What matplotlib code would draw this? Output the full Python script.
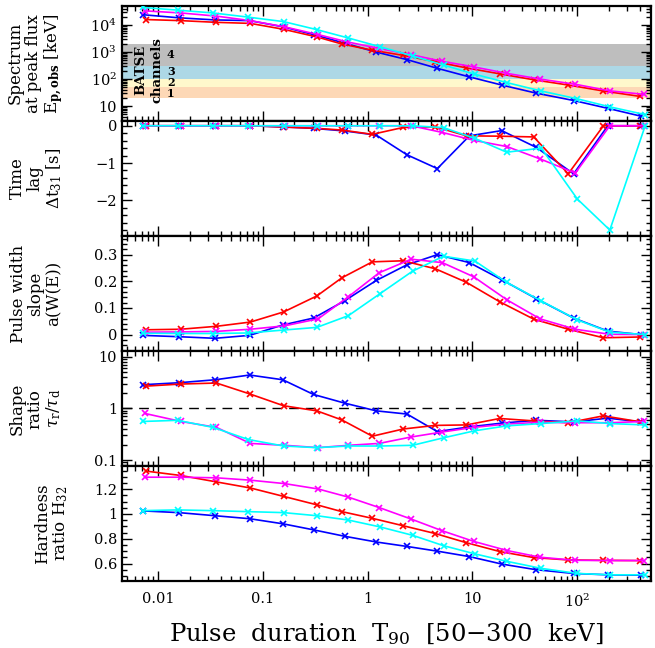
"""
Pulse properties vs. pulse duration T90 -- five stacked panels sharing a log x-axis.
"""

import matplotlib
matplotlib.use("Agg")
import matplotlib.pyplot as plt
from matplotlib.ticker import MultipleLocator, LogLocator, NullFormatter

plt.rcParams["font.family"] = ["DejaVu Serif"]
plt.rcParams["mathtext.fontset"] = "dejavuserif"

# ── Data: T90 bin positions (each series slightly offset) ─────────────────────
t90_red = [0.0077, 0.0164, 0.036, 0.076, 0.158, 0.328, 0.568, 1.11, 2.19, 4.44,
           8.8, 18.3, 38.6, 82.5, 179, 404]
t90_magenta = [0.0075, 0.0165, 0.036, 0.076, 0.162, 0.337, 0.656, 1.29, 2.61, 5.18,
               10.3, 21.5, 44.4, 96.4, 206, 439]
t90_cyan = [0.0071, 0.0154, 0.0334, 0.0726, 0.158, 0.328, 0.656, 1.31, 2.69, 5.32,
            10.6, 21.3, 45.6, 101, 206, 448]
t90_blue = [0.0071, 0.0158, 0.035, 0.0747, 0.155, 0.305, 0.605, 1.21, 2.38, 4.64,
            9.4, 19.1, 40.8, 92.9, 197, 408]

# panel 1: E_p,obs at peak flux [keV]
ep_red = [16100, 14700, 12700, 11600, 7000, 3650, 2000, 1175, 755, 442,
          259, 156, 94, 60, 36, 22.6]
ep_magenta = [33800, 28300, 21600, 14700, 8600, 4460, 2340, 1365, 800, 455,
              283, 162, 100, 64, 36.5, 27]
ep_cyan = [45500, 35900, 28300, 19800, 13500, 6800, 3330, 1585, 720, 330,
           150, 74, 36, 18.4, 9.3, 4.8]
ep_blue = [24400, 18700, 15600, 14700, 8700, 4460, 2140, 1000, 526, 250,
           120, 60, 30, 16, 8.2, 4.2]

# panel 2: time lag dt31 [s]
lag_red = [0, 0, 0, 0, -0.035, -0.07, -0.115, -0.23, -0.045, -0.03,
           -0.27, -0.28, -0.30, -1.29, 0, 0]
lag_magenta = [0, 0, 0, 0, 0, 0, 0, 0, 0, -0.18,
               -0.39, -0.56, -0.89, -1.27, 0, 0]
lag_cyan = [0, 0, 0, 0, 0, 0, 0, 0, 0, -0.05,
            -0.34, -0.71, -0.60, -1.97, -2.80, 0]
lag_blue = [0, 0, 0, 0, -0.03, -0.07, -0.14, -0.25, -0.78, -1.15,
            -0.27, -0.13, -0.58, -1.29, 0, 0]

# panel 3: pulse width slope a(W(E))
slope_red = [0.018, 0.020, 0.031, 0.047, 0.085, 0.145, 0.213, 0.273, 0.277, 0.247,
             0.196, 0.123, 0.058, 0.020, -0.012, -0.009]
slope_magenta = [0.009, 0.010, 0.012, 0.020, 0.033, 0.059, 0.142, 0.232, 0.283, 0.270,
                 0.217, 0.130, 0.059, 0.020, 0.001, 0.0]
slope_cyan = [0.005, 0.004, 0.004, 0.006, 0.017, 0.027, 0.071, 0.153, 0.238, 0.294,
              0.276, 0.196, 0.126, 0.055, 0.009, 0.0]
slope_blue = [-0.003, -0.008, -0.014, -0.003, 0.036, 0.062, 0.127, 0.203, 0.262, 0.300,
              0.270, 0.206, 0.135, 0.062, 0.013, 0.0]

# panel 4: shape ratio tau_r / tau_d
shape_red = [2.72, 2.98, 3.12, 1.90, 1.13, 0.90, 0.60, 0.29, 0.40, 0.47,
             0.48, 0.64, 0.575, 0.53, 0.72, 0.55]
shape_magenta = [0.80, 0.56, 0.43, 0.21, 0.193, 0.174, 0.193, 0.21, 0.28, 0.35,
                 0.43, 0.50, 0.54, 0.53, 0.53, 0.56]
shape_cyan = [0.56, 0.59, 0.43, 0.25, 0.187, 0.174, 0.187, 0.187, 0.193, 0.27,
              0.37, 0.46, 0.51, 0.575, 0.51, 0.48]
shape_blue = [2.89, 3.16, 3.61, 4.46, 3.61, 1.87, 1.27, 0.90, 0.78, 0.356,
              0.44, 0.52, 0.59, 0.55, 0.65, 0.55]

# panel 5: hardness ratio H32
hr_red = [1.346, 1.311, 1.259, 1.210, 1.142, 1.074, 1.019, 0.965, 0.905, 0.842,
          0.768, 0.697, 0.648, 0.629, 0.626, 0.624]
hr_magenta = [1.297, 1.297, 1.292, 1.273, 1.245, 1.202, 1.136, 1.052, 0.959, 0.864,
              0.779, 0.705, 0.651, 0.626, 0.624, 0.624]
hr_cyan = [1.027, 1.033, 1.027, 1.019, 1.011, 0.986, 0.951, 0.896, 0.828, 0.744,
           0.678, 0.618, 0.561, 0.520, 0.509, 0.509]
hr_blue = [1.025, 1.011, 0.986, 0.962, 0.921, 0.872, 0.820, 0.774, 0.738, 0.700,
           0.656, 0.596, 0.550, 0.520, 0.509, 0.506]

# BATSE energy channels [keV]
batse_edges = [20, 50, 100, 300, 2000]
batse_colors = ["#fdd8b6", "#fff8cc", "#add8e6", "#bebebe"]
batse_labels = ["1", "2", "3", "4"]
batse_label_y = [28, 73, 195, 800]

# ── Style ─────────────────────────────────────────────────────────────────────
C_RED, C_MAG, C_CYAN, C_BLUE = "#ff0000", "#ff00ff", "#00ffff", "#0000ff"
LW, MS = 1.2, 4.5
FS_TICK, FS_LAB = 10.5, 12

series = [("blue", C_BLUE), ("red", C_RED), ("magenta", C_MAG), ("cyan", C_CYAN)]
xs = {"red": t90_red, "magenta": t90_magenta, "cyan": t90_cyan, "blue": t90_blue}
panels = [
    {"red": ep_red, "magenta": ep_magenta, "cyan": ep_cyan, "blue": ep_blue},
    {"red": lag_red, "magenta": lag_magenta, "cyan": lag_cyan, "blue": lag_blue},
    {"red": slope_red, "magenta": slope_magenta, "cyan": slope_cyan, "blue": slope_blue},
    {"red": shape_red, "magenta": shape_magenta, "cyan": shape_cyan, "blue": shape_blue},
    {"red": hr_red, "magenta": hr_magenta, "cyan": hr_cyan, "blue": hr_blue},
]

fig, axes = plt.subplots(5, 1, figsize=(6.55, 6.48), dpi=100, sharex=True)
fig.subplots_adjust(left=0.186, right=0.994, bottom=0.103, top=0.991, hspace=0)

for ax, data in zip(axes, panels):
    for key, col in series:
        ax.plot(xs[key], data[key], color=col, lw=LW, marker="x", ms=MS,
                mew=1.2, zorder=3)
    for sp in ax.spines.values():
        sp.set_linewidth(1.6)
    ax.tick_params(which="both", direction="in", top=True, right=True,
                   labelsize=FS_TICK, width=1.0)
    ax.tick_params(which="major", length=7)
    ax.tick_params(which="minor", length=3.5)

ax0, ax1, ax2, ax3, ax4 = axes

# x-axis (shared)
ax4.set_xscale("log")
ax4.set_xlim(0.0045, 510)
ax4.set_xticks([0.01, 0.1, 1, 10, 100])
ax4.set_xticklabels(["0.01", "0.1", "1", "10", "$10^2$"])
ax4.xaxis.set_minor_locator(LogLocator(base=10, subs=range(2, 10), numticks=20))
ax4.xaxis.set_minor_formatter(NullFormatter())
ax4.tick_params(axis="x", pad=8)

# panel 1: spectrum
ax0.set_yscale("log")
ax0.set_ylim(2.8, 5.2e4)
ax0.set_yticks([10, 100, 1000, 10000])
ax0.set_yticklabels(["10", "$10^2$", "$10^3$", "$10^4$"])
ax0.yaxis.set_minor_locator(LogLocator(base=10, subs=range(2, 10), numticks=20))
ax0.yaxis.set_minor_formatter(NullFormatter())
for lo, hi, c in zip(batse_edges[:-1], batse_edges[1:], batse_colors):
    ax0.axhspan(lo, hi, color=c, lw=0, zorder=1)
ax0.text(0.0068, 215, "BATSE", rotation=90, ha="center", va="center",
         fontsize=9.5, fontweight="bold", zorder=2)
ax0.text(0.0098, 215, "channels", rotation=90, ha="center", va="center",
         fontsize=9.5, fontweight="bold", zorder=2)
for yc, lab in zip(batse_label_y, batse_labels):
    ax0.text(0.0132, yc, lab, ha="center", va="center", fontsize=8,
             fontweight="bold", zorder=2)

# panel 2: time lag
ax1.set_ylim(-2.96, 0.13)
ax1.yaxis.set_major_locator(MultipleLocator(1))
ax1.yaxis.set_minor_locator(MultipleLocator(0.2))

# panel 3: pulse width slope
ax2.set_ylim(-0.062, 0.37)
ax2.set_yticks([0, 0.1, 0.2, 0.3])
ax2.set_yticklabels(["0", "0.1", "0.2", "0.3"])
ax2.yaxis.set_minor_locator(MultipleLocator(0.02))

# panel 4: shape ratio
ax3.set_yscale("log")
ax3.set_ylim(0.076, 13)
ax3.set_yticks([0.1, 1, 10])
ax3.set_yticklabels(["0.1", "1", "10"])
ax3.yaxis.set_minor_locator(LogLocator(base=10, subs=range(2, 10), numticks=20))
ax3.yaxis.set_minor_formatter(NullFormatter())
ax3.axhline(1, color="black", lw=1.0, ls=(0, (7, 5)), zorder=2)

# panel 5: hardness ratio
ax4.set_ylim(0.457, 1.386)
ax4.set_yticks([0.6, 0.8, 1.0, 1.2])
ax4.set_yticklabels(["0.6", "0.8", "1", "1.2"])
ax4.yaxis.set_minor_locator(MultipleLocator(0.05))

# ── y labels ──────────────────────────────────────────────────────────────────
ylabels = [
    ("Spectrum\nat peak flux\n$\\mathrm{E}_{\\mathbf{p,obs}}$ [keV]", -0.162),
    ("Time\nlag\n$\\Delta\\mathrm{t}_{31}$ [s]", -0.162),
    ("Pulse width\nslope\na(W(E))", -0.162),
    ("Shape\nratio\n$\\tau_\\mathrm{r}/\\tau_\\mathrm{d}$", -0.162),
    ("Hardness\nratio $\\mathrm{H}_{32}$", -0.132),
]
for ax, (txt, xpos) in zip(axes, ylabels):
    ax.text(xpos, 0.5, txt, transform=ax.transAxes, rotation=90,
            ha="center", va="center", multialignment="center",
            fontsize=FS_LAB, linespacing=1.05)

ax4.set_xlabel("Pulse  duration  $\\mathrm{T}_{90}$  [50$-$300  keV]",
               fontsize=17.5, labelpad=8)

plt.savefig("out.png", dpi=100)
plt.close()
